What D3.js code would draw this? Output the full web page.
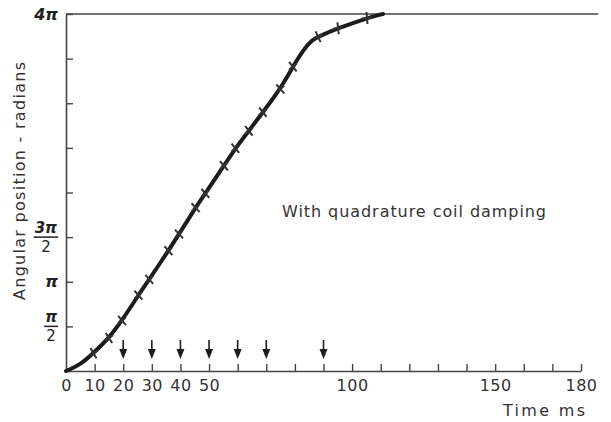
<!DOCTYPE html>
<html>
<head>
<meta charset="utf-8">
<script src="https://cdn.jsdelivr.net/npm/d3@7"></script>
<style>
  html, body { margin: 0; padding: 0; background: #fff; }
  svg { display: block; font-family: "DejaVu Sans", sans-serif; }
</style>
</head>
<body>
<svg id="chart" width="611" height="422"></svg>
<script>
// ---- data (time in ms, angle in multiples of π) ----
const markerTime  = [9.6, 15.0, 19.6, 25.3, 29.1, 35.8, 39.5, 45.3, 48.7, 55.2, 59.2, 63.9, 68.8, 74.9, 79.3, 88.1, 95.1, 105.2];
const markerAngle = [0.20, 0.37, 0.566, 0.85, 1.027, 1.348, 1.535, 1.83, 1.99, 2.30, 2.495, 2.69, 2.90, 3.16, 3.41, 3.745, 3.84, 3.955];
const curveTime   = [0, 5, 9.6, 15.0, 19.6, 25.3, 29.1, 35.8, 39.5, 45.3, 48.7, 55.2, 59.2, 63.9, 68.8, 74.9, 79.3, 83.0, 86.0, 88.1, 95.1, 105.2, 110.8];
const curveAngle  = [0, 0.07, 0.20, 0.37, 0.566, 0.85, 1.027, 1.348, 1.535, 1.83, 1.99, 2.30, 2.495, 2.69, 2.90, 3.16, 3.41, 3.60, 3.71, 3.745, 3.84, 3.955, 4.0];
const arrowTimes  = [20, 30, 40, 50, 60, 70, 90];
const xTickValues = [10, 20, 30, 40, 50, 60, 70, 80, 90, 100, 110, 120, 130, 140, 150, 160, 170, 180];
const xTickLabels = [0, 10, 20, 30, 40, 50, 100, 150, 180];
const yTickValues = [0.5, 1, 1.5, 2, 2.5, 3, 3.5, 4];
const yLabelValues = [0.5, 1, 1.5, 4];
const yLabelNum    = ["π", "π", "3π", "4π"];
const yLabelDen    = ["2", "", "2", ""];
const asymptote    = 4;      // 4π
const asymptoteEnd = 186;    // ms
const xTitle = "Time  ms";
const yTitle = "Angular position - radians";
const note   = "With quadrature coil damping";

const svg = d3.select("#chart");
const ink = "#1c1c1c", axisInk = "#444";

const x = d3.scaleLinear().domain([0, 180]).range([66, 581]);
const y = d3.scaleLinear().domain([0, 4]).range([371, 14]);

// x axis
const xAxis = d3.axisBottom(x)
  .tickValues([0].concat(xTickValues))
  .tickSizeInner(-7).tickSizeOuter(0).tickPadding(9)
  .tickFormat(d => xTickLabels.includes(d) ? String(d) : "");
const gx = svg.append("g").attr("transform", `translate(0,${y(0)})`).call(xAxis);
gx.select(".domain").attr("stroke", axisInk).attr("stroke-width", 1.6);
gx.selectAll(".tick line").attr("stroke", axisInk).attr("stroke-width", 1.4)
  .filter(d => d === 0).remove();
gx.selectAll(".tick text").attr("font-size", 16).attr("fill", "#333")
  .attr("letter-spacing", 0.5)
  .attr("font-family", "DejaVu Sans, sans-serif");

// y axis
const yAxis = d3.axisLeft(y).tickValues(yTickValues)
  .tickSizeInner(-7).tickSizeOuter(0).tickFormat("");
const gy = svg.append("g").attr("transform", `translate(${x(0)},0)`).call(yAxis);
gy.select(".domain").attr("stroke", axisInk).attr("stroke-width", 1.6);
gy.selectAll(".tick line").attr("stroke", axisInk).attr("stroke-width", 1.4);

// asymptote at 4π
svg.append("line")
  .attr("x1", x(0)).attr("x2", x(asymptoteEnd))
  .attr("y1", y(asymptote)).attr("y2", y(asymptote))
  .attr("stroke", axisInk).attr("stroke-width", 1.6);

// y labels (fractions of π)
const labG = svg.append("g").attr("fill", "#222");
yLabelValues.forEach((v, i) => {
  const yy = y(v);
  if (yLabelDen[i] === "") {
    labG.append("text").attr("x", 58).attr("y", yy).attr("dy", "0.35em")
      .attr("text-anchor", "end").attr("font-size", 16).attr("font-style", "italic")
      .attr("font-weight", "bold").text(yLabelNum[i]);
  } else {
    const num = labG.append("text").attr("x", 57).attr("y", yy - 4)
      .attr("text-anchor", "end").attr("font-size", 15).attr("font-style", "italic")
      .attr("font-weight", "bold").text(yLabelNum[i]);
    const bb = num.node().getBBox();
    const cx = bb.x + bb.width / 2;
    labG.append("line").attr("x1", bb.x - 1).attr("x2", bb.x + bb.width + 1)
      .attr("y1", yy).attr("y2", yy).attr("stroke", "#222").attr("stroke-width", 1.5);
    labG.append("text").attr("x", cx).attr("y", yy + 15)
      .attr("text-anchor", "middle").attr("font-size", 15).text(yLabelDen[i]);
  }
});

// axis titles
svg.append("text").attr("transform", "translate(25,181) rotate(-90)")
  .attr("text-anchor", "middle").attr("font-size", 16).attr("fill", "#333")
  .attr("textLength", 238).attr("lengthAdjust", "spacing").text(yTitle);
svg.append("text").attr("x", 503).attr("y", 416)
  .attr("font-size", 16).attr("fill", "#333")
  .attr("textLength", 82).attr("lengthAdjust", "spacing").text(xTitle);

// annotation
svg.append("text").attr("x", 282).attr("y", 217).attr("font-size", 16)
  .attr("fill", "#333").attr("textLength", 264).attr("lengthAdjust", "spacing").text(note);

// arrows
const arrG = svg.append("g");
arrowTimes.forEach(t => {
  const ax = x(t);
  arrG.append("line").attr("x1", ax).attr("x2", ax).attr("y1", 340).attr("y2", 352)
    .attr("stroke", ink).attr("stroke-width", 1.6);
  arrG.append("path").attr("d", `M${ax - 4},${349} L${ax + 4},${349} L${ax},${359} Z`)
    .attr("fill", ink);
});

// curve
const pts = curveTime.map((t, i) => [x(t), y(curveAngle[i])]);
svg.append("path")
  .attr("d", d3.line().curve(d3.curveBasis)(pts))
  .attr("fill", "none").attr("stroke", ink).attr("stroke-width", 4)
  .attr("stroke-linecap", "round").attr("stroke-linejoin", "round");

// markers (crosses aligned with curve)
const mk = markerTime.map((t, i) => [x(t), y(markerAngle[i])]);
const mg = svg.append("g").attr("stroke", "#333").attr("stroke-width", 2);
mk.forEach((p, i) => {
  const a = mk[Math.max(0, i - 1)], b = mk[Math.min(mk.length - 1, i + 1)];
  const ang = Math.atan2(b[1] - a[1], b[0] - a[0]) * 180 / Math.PI;
  const g = mg.append("g").attr("transform", `translate(${p[0]},${p[1]}) rotate(${ang + 15})`);
  g.append("line").attr("x1", 0).attr("x2", 0).attr("y1", -6).attr("y2", 6);
  g.append("line").attr("x1", -5).attr("x2", 5).attr("y1", 0).attr("y2", 0);
});
</script>
</body>
</html>
